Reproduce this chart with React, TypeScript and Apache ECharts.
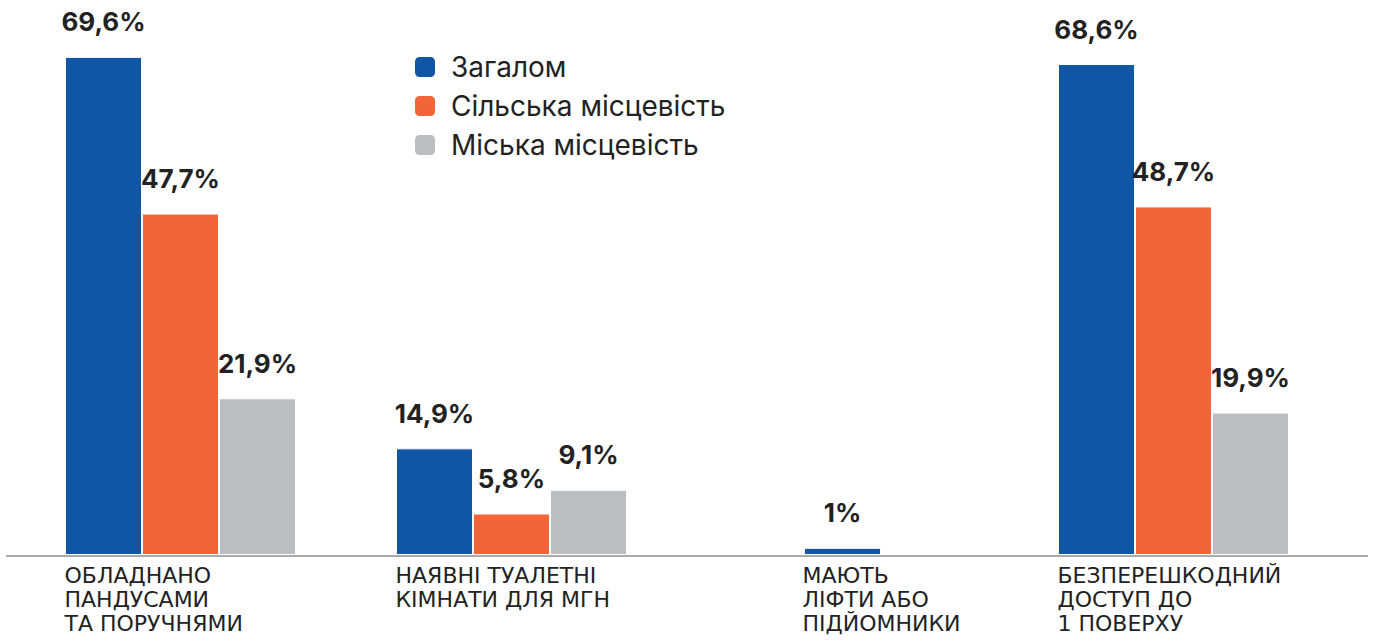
import { useEffect, useRef } from 'react';
import * as echarts from 'echarts';

const categories = [
  'ОБЛАДНАНО\nПАНДУСАМИ\nТА ПОРУЧНЯМИ',
  'НАЯВНІ ТУАЛЕТНІ\nКІМНАТИ ДЛЯ МГН',
  'МАЮТЬ\nЛІФТИ АБО\nПІДЙОМНИКИ',
  'БЕЗПЕРЕШКОДНИЙ\nДОСТУП ДО\n1 ПОВЕРХУ',
];
const seriesNames = ['Загалом', 'Сільська місцевість', 'Міська місцевість'];
const overall = [69.6, 14.9, null, 68.6];
const rural = [47.7, 5.8, null, 48.7];
const urban = [21.9, 9.1, null, 19.9];
const overallSingle = [null, null, 1, null];

const colors = ['#1155A5', '#F26539', '#BCBDC0'];
const FONT = 'Inter, "Noto Sans", sans-serif';
const CAT_FONT = '"DejaVu Sans", Inter, sans-serif';

export default function App() {
  const ref = useRef<HTMLDivElement>(null);
  useEffect(() => {
    if (!ref.current) return;
    const chart = echarts.init(ref.current, undefined, { renderer: 'svg' });
    const fmt = (p: any) => String(p.value).replace('.', ',') + '%';
    const label = {
      show: true,
      position: 'top',
      distance: 22,
      formatter: fmt,
      fontFamily: FONT,
      fontWeight: 700,
      fontSize: 26,
      color: '#222',
    };
    const barCommon = {
      type: 'bar',
      barWidth: 77,
      barGap: '0%',
      label,
      itemStyle: { borderColor: '#fff', borderWidth: 1 },
    };
    const labelStyle = { fontFamily: CAT_FONT, fontSize: 22, lineHeight: 24, color: '#222', align: 'left' };
    chart.setOption({
      animation: false,
      color: colors,
      grid: { left: 15, width: 1324, top: 54, bottom: 86 },
      legend: {
        orient: 'vertical',
        left: 408,
        top: 48,
        itemWidth: 22,
        itemHeight: 22,
        itemGap: 11,
        icon: 'roundRect',
        data: seriesNames,
        textStyle: { fontFamily: FONT, fontSize: 28, color: '#222', padding: [0, 0, 0, 10] },
      },
      xAxis: [
        {
          type: 'category',
          data: categories,
          axisLine: { show: false },
          axisTick: { show: false },
          axisLabel: {
            interval: 0,
            margin: 8,
            align: 'center',
            formatter: (v: string, i: number) => `{${i === 2 ? 'b' : 'a'}|${v}}`,
            rich: {
              a: { ...labelStyle, width: 232 },
              b: { ...labelStyle, width: 80 },
            },
          },
        },
        { type: 'category', data: categories, show: false },
      ],
      yAxis: { type: 'value', min: 0, max: 70, show: false },
      series: [
        { ...barCommon, name: seriesNames[0], data: overall },
        { ...barCommon, name: seriesNames[1], data: rural },
        { ...barCommon, name: seriesNames[2], data: urban },
        { ...barCommon, name: seriesNames[0], xAxisIndex: 1, data: overallSingle },
      ],
      graphic: [
        {
          type: 'line',
          shape: { x1: 6, y1: 556, x2: 1368, y2: 556 },
          style: { stroke: '#aaaaaa', lineWidth: 2 },
          z: 10,
        },
      ],
    });
    return () => chart.dispose();
  }, []);
  return <div ref={ref} style={{ position: 'absolute', left: 0, top: 0, width: 1375, height: 641 }} />;
}
